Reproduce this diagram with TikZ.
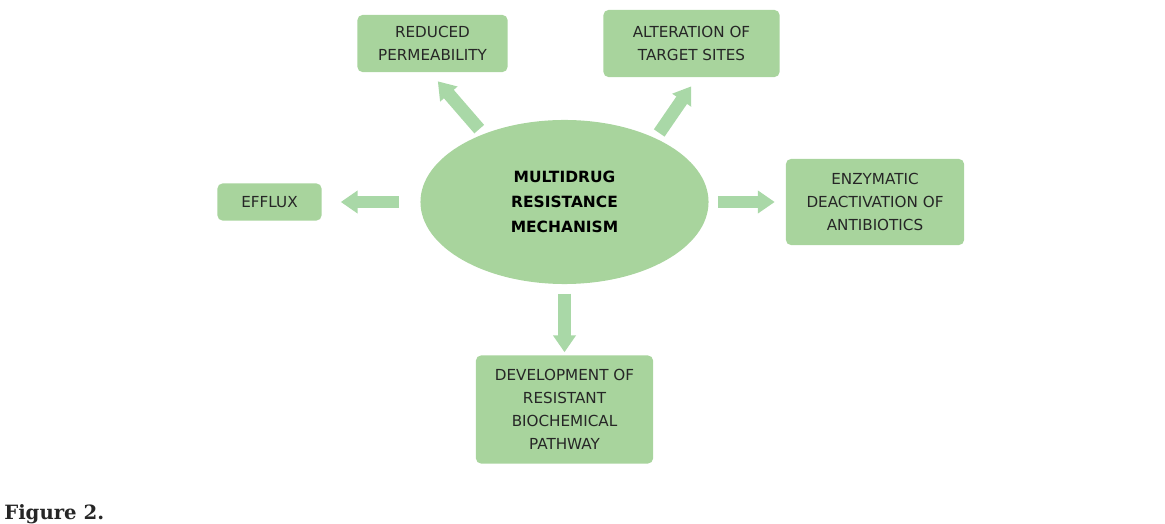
\documentclass[tikz,border=0pt]{standalone}
\usepackage{fontspec}
\newfontfamily\boxfont{DejaVu Sans}
\newfontfamily\capfont{DejaVu Serif}
\usetikzlibrary{positioning}
\usetikzlibrary{shapes.geometric}
\usetikzlibrary{arrows.meta}
\definecolor{boxgreen}{HTML}{A8D49D}
\definecolor{arrowgreen}{HTML}{A9D8A7}
\tikzset{mbox/.style={fill=boxgreen, rounded corners=3.5pt, inner sep=0pt, align=center,
  font=\boxfont\fontsize{10.8}{16.3}\selectfont, text=black!85}}
\tikzset{hub/.style={ellipse, fill=boxgreen, inner sep=0pt, minimum width=7.2cm, minimum height=4.1cm,
  align=center, font=\boxfont\bfseries\fontsize{11}{17.7}\selectfont}}
\tikzset{flow/.style={draw=arrowgreen, line width=9.2pt, -{Triangle[length=12pt,width=15.6pt]}}}
\begin{document}
\begin{tikzpicture}[x=0.025cm, y=-0.025cm]
\useasboundingbox (0,0) rectangle (1165,524);

\node[hub] (mdr) at (564.5,202) {MULTIDRUG\\RESISTANCE\\MECHANISM};

\node[mbox, minimum width=3.75cm, minimum height=1.425cm] (perm) at (432.5,43.5) {REDUCED\\PERMEABILITY};
\node[mbox, minimum width=4.4cm, minimum height=1.675cm] (alter) at (691.5,43.5) {ALTERATION OF\\TARGET SITES};
\node[mbox, minimum width=2.6cm, minimum height=0.925cm] (efflux) at (269.5,202) {EFFLUX};
\node[mbox, minimum width=4.45cm, minimum height=2.15cm] (enzym) at (875,202) {ENZYMATIC\\DEACTIVATION OF\\ANTIBIOTICS};
\node[mbox, minimum width=4.425cm, minimum height=2.7cm] (devel) at (564.5,409.5) {DEVELOPMENT OF\\RESISTANT\\BIOCHEMICAL\\PATHWAY};

\draw[flow, shorten <=14.9pt, shorten >=13.5pt] (mdr.west) -- (efflux.east);
\draw[flow, shorten <=6.4pt, shorten >=7.8pt] (mdr.east) -- (enzym.west);
\draw[flow, shorten <=6.7pt, shorten >=2.1pt] (mdr.south) -- (devel.north);
\draw[flow, shorten <=4.5pt, shorten >=8.5pt] (mdr.140) -- (perm.265);
\draw[flow, shorten <=4.5pt, shorten >=7.8pt] (mdr.35) -- (alter.280);

\node[anchor=base west, inner sep=0pt, font=\capfont\bfseries\fontsize{14}{17}\selectfont, text=black!85]
  (cap) at (4,519) {Figure 2.};
\end{tikzpicture}
\end{document}
